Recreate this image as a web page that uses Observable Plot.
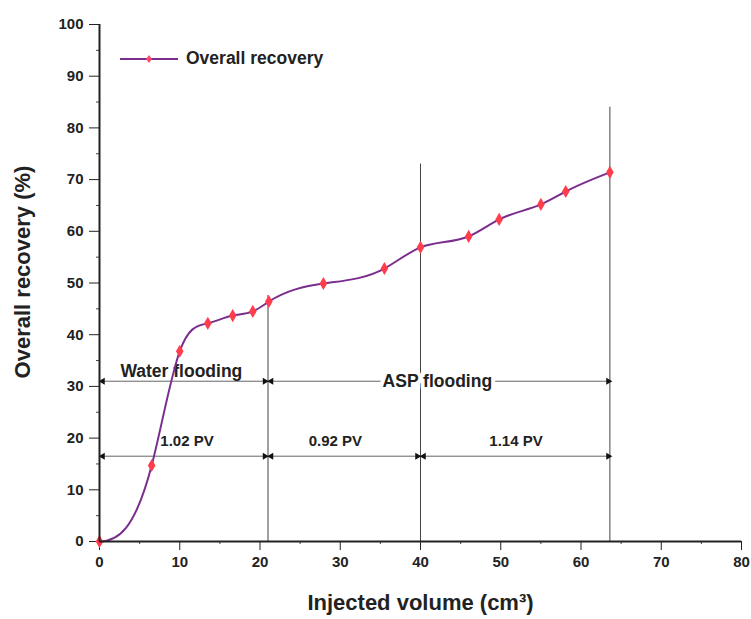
<!DOCTYPE html>
<html><head><meta charset="utf-8">
<script src="https://cdn.jsdelivr.net/npm/d3@7"></script>
<script src="https://cdn.jsdelivr.net/npm/@observablehq/plot@0.6"></script>
<style>
body{margin:0;background:#fff;}
#wrap{position:relative;width:751px;height:619px;font-family:"Liberation Sans",Arial,sans-serif;}
#legend{position:absolute;left:120px;top:48px;display:flex;align-items:center;font-weight:bold;font-size:17.5px;color:#222;}
</style></head>
<body><div id="wrap"><div id="legend"><svg width="60" height="20"><line x1="0" y1="10" x2="58" y2="10" stroke="#7b2d8e" stroke-width="2"/><path d="M29,6L32,10L29,14L26,10Z" fill="#ff4a6a"/></svg><span style="margin-left:6px">Overall recovery</span></div></div>
<script>
// Data
const volume = [0, 6.5, 10, 13.5, 16.6, 19.1, 21.1, 27.9, 35.5, 40.0, 46.0, 49.8, 55.0, 58.1, 63.6];
const recovery = [0, 14.7, 36.8, 42.2, 43.7, 44.5, 46.4, 49.9, 52.8, 56.9, 59.0, 62.3, 65.2, 67.7, 71.4];
const data = volume.map((v, i) => ({v, r: recovery[i]}));

// Stage boundaries (injected volume) and the heights of their guide lines
const boundaryX = [21, 40, 63.6];
const boundaryTop = [47.6, 73, 84];
const boundaries = boundaryX.map((x, i) => ({x, top: boundaryTop[i]}));

// Dimension arrows: start, end, level
const arrowStart = [0.4, 21.4, 0.4, 21.4, 40.4];
const arrowEnd = [20.6, 63.4, 20.6, 39.6, 63.4];
const arrowLevel = [31, 31, 16.5, 16.5, 16.5];
const arrows = arrowStart.map((a, i) => ({x1: a, x2: arrowEnd[i], y: arrowLevel[i]}));
const heads = arrows.flatMap(d => [{x: d.x1, y: d.y, rot: -90}, {x: d.x2, y: d.y, rot: 90}]);

// Annotation labels
const stageText = ["Water flooding", "ASP flooding"];
const stageX = [10.2, 42.1];
const stageY = [32.9, 31.0];
const stages = stageText.map((t, i) => ({t, x: stageX[i], y: stageY[i]}));
const pvText = ["1.02 PV", "0.92 PV", "1.14 PV"];
const pvX = [10.9, 29.4, 51.9];
const pvY = [19.4, 19.4, 19.4];
const pvs = pvText.map((t, i) => ({t, x: pvX[i], y: pvY[i]}));

const majorTicksX = d3.range(0, 81, 10);
const minorTicksX = d3.range(5, 80, 10);
const majorTicksY = d3.range(0, 101, 10);
const minorTicksY = d3.range(5, 100, 10);

// Cubic spline: flat start, natural end (matches the smoothed curve of the original)
function curveClampedSpline(context) {
  let xs, ys;
  return {
    areaStart() {}, areaEnd() {},
    lineStart() { xs = []; ys = []; },
    point(x, y) { xs.push(+x); ys.push(+y); },
    lineEnd() {
      const n = xs.length;
      if (n === 0) return;
      context.moveTo(xs[0], ys[0]);
      if (n < 3) { for (let i = 1; i < n; i++) context.lineTo(xs[i], ys[i]); return; }
      const h = [], a = [], b = [], c = [], r = [];
      for (let i = 0; i < n - 1; i++) h.push(xs[i + 1] - xs[i]);
      a[0] = 0; b[0] = 2 * h[0]; c[0] = h[0]; r[0] = 6 * ((ys[1] - ys[0]) / h[0] - 0);
      for (let i = 1; i < n - 1; i++) {
        a[i] = h[i - 1]; b[i] = 2 * (h[i - 1] + h[i]); c[i] = h[i];
        r[i] = 6 * ((ys[i + 1] - ys[i]) / h[i] - (ys[i] - ys[i - 1]) / h[i - 1]);
      }
      a[n - 1] = 0; b[n - 1] = 1; c[n - 1] = 0; r[n - 1] = 0;
      for (let i = 1; i < n; i++) { const m = a[i] / b[i - 1]; b[i] -= m * c[i - 1]; r[i] -= m * r[i - 1]; }
      const M = new Array(n);
      M[n - 1] = r[n - 1] / b[n - 1];
      for (let i = n - 2; i >= 0; i--) M[i] = (r[i] - c[i] * M[i + 1]) / b[i];
      for (let i = 0; i < n - 1; i++) {
        const hi = h[i], s = (ys[i + 1] - ys[i]) / hi;
        const d0 = s - hi * (2 * M[i] + M[i + 1]) / 6;
        const d1 = s + hi * (M[i] + 2 * M[i + 1]) / 6;
        context.bezierCurveTo(xs[i] + hi / 3, ys[i] + d0 * hi / 3, xs[i + 1] - hi / 3, ys[i + 1] - d1 * hi / 3, xs[i + 1], ys[i + 1]);
      }
    }
  };
}

const chart = Plot.plot({
  width: 751, height: 619,
  marginLeft: 99, marginRight: 10, marginTop: 24, marginBottom: 78,
  style: {fontFamily: "Liberation Sans, Arial, sans-serif", fontWeight: "bold", color: "#222", background: "white"},
  x: {domain: [0, 80]},
  y: {domain: [0, 100]},
  marks: [
    Plot.axisX({ticks: minorTicksX, tickSize: 3, tickFormat: () => "", stroke: "#444"}),
    Plot.axisY({ticks: minorTicksY, tickSize: 3, tickFormat: () => "", stroke: "#444"}),
    Plot.axisX({ticks: majorTicksX, tickSize: 9, tickPadding: 6, fontSize: 15, stroke: "#222", label: null}),
    Plot.axisY({ticks: majorTicksY, tickSize: 10, tickPadding: 6, fontSize: 15, stroke: "#222", label: null}),
    Plot.ruleX(boundaries, {x: "x", y1: 0, y2: "top", stroke: "#444", strokeWidth: 1}),
    Plot.link(arrows, {x1: "x1", x2: "x2", y1: "y", y2: "y", stroke: "#666", strokeWidth: 1}),
    Plot.dot(heads, {x: "x", y: "y", symbol: "triangle", r: 2.6, rotate: "rot", fill: "#111"}),
    Plot.text(pvs, {x: "x", y: "y", text: "t", fontSize: 15, fill: "#222"}),
    Plot.text(stages, {x: "x", y: "y", text: "t", fontSize: 17.5, fill: "#222", stroke: (d) => d.t === "ASP flooding" ? "white" : "none", strokeWidth: 8, paintOrder: "stroke"}),
    Plot.line(data, {x: "v", y: "r", curve: curveClampedSpline, stroke: "#7b2d8e", strokeWidth: 2}),
    Plot.dot(data, {x: "v", y: "r", symbol: "diamond", r: 4, fill: "#ff3d4d"}),
    Plot.ruleX([0], {stroke: "#222", strokeWidth: 2}),
    Plot.ruleY([0], {stroke: "#222", strokeWidth: 2}),
    Plot.text(["Overall recovery (%)"], {frameAnchor: "left", textAnchor: "middle", dx: -77, dy: -11, rotate: -90, fontSize: 22, fill: "#222"}),
    Plot.text(["Injected volume (cm³)"], {frameAnchor: "bottom", dy: 68, fontSize: 22, fill: "#222"})
  ]
});
document.getElementById("wrap").prepend(chart);
</script>
</body></html>
